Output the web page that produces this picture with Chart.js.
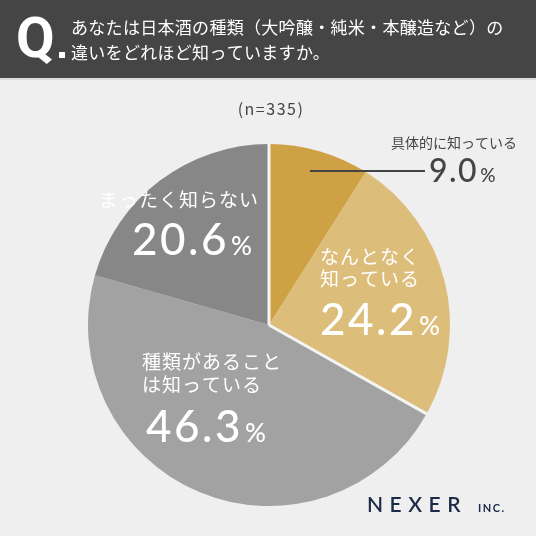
<!DOCTYPE html>
<html><head><meta charset="utf-8">
<script src="https://cdn.jsdelivr.net/npm/chart.js@4/dist/chart.umd.min.js"></script>
<style>html,body{margin:0;padding:0;background:#f0efef;}#wrap{width:536px;height:536px;position:relative;}</style>
</head><body><div id="wrap"><canvas id="c" width="536" height="536"></canvas></div>
<script>
const categories = ["具体的に知っている", "なんとなく知っている", "種類があることは知っている", "まったく知らない"];
const values = [9.0, 24.2, 46.3, 20.6];
const colors = ["#cea244", "#dcbd79", "#a2a2a2", "#878787"];
const title1 = "あなたは日本酒の種類（大吟醸・純米・本醸造など）の";
const title2 = "違いをどれほど知っていますか。";
const sampleText = "(n=335)";

const JP = '"Noto Sans CJK JP", "Noto Sans", sans-serif';
const NUM = 'Lato, "Noto Sans", sans-serif';

function numPct(ctx, val, x, base, size, pctSize, spacing, color) {
  ctx.fillStyle = color;
  ctx.textAlign = 'left';
  ctx.textBaseline = 'alphabetic';
  ctx.font = '500 ' + size + 'px ' + NUM;
  ctx.letterSpacing = spacing + 'px';
  const s = val.toFixed(1);
  ctx.fillText(s, x, base);
  const w = ctx.measureText(s).width;
  ctx.letterSpacing = '0px';
  ctx.font = '500 ' + pctSize + 'px ' + NUM;
  ctx.fillText('%', x + w + 2, base);
}

const deco = {
  id: 'deco',
  beforeDraw(chart) {
    const ctx = chart.ctx;
    ctx.save();
    ctx.fillStyle = '#f0efef';
    ctx.fillRect(0, 0, 536, 536);
    ctx.fillStyle = '#454545';
    ctx.fillRect(0, 0, 536, 78);
    ctx.fillStyle = '#dcdcdc';
    ctx.fillRect(0, 78, 536, 2);
    // Q.
    ctx.fillStyle = '#ffffff';
    ctx.font = 'bold 56px Roboto, sans-serif';
    ctx.textBaseline = 'alphabetic';
    ctx.textAlign = 'left';
    ctx.fillText('Q', 16, 57);
    ctx.fillRect(59, 52, 6, 6);
    ctx.font = '17px ' + JP;
    ctx.textBaseline = 'middle';
    ctx.letterSpacing = '0.3px';
    ctx.fillText(title1, 71, 28);
    ctx.fillText(title2, 71, 53);
    // n
    ctx.fillStyle = '#444444';
    ctx.font = '16px ' + JP;
    ctx.textAlign = 'center';
    ctx.letterSpacing = '1.5px';
    ctx.fillText(sampleText, 271, 109);
    ctx.letterSpacing = '0px';
    ctx.restore();
  },
  afterDatasetsDraw(chart) {
    const ctx = chart.ctx;
    const arcs = chart.getDatasetMeta(0).data;
    ctx.save();
    // white separators between gold and gray groups
    ctx.strokeStyle = '#f4f4f4';
    ctx.lineWidth = 3;
    [0, 2].forEach(i => {
      const a = arcs[i];
      ctx.beginPath();
      ctx.moveTo(a.x, a.y);
      ctx.lineTo(a.x + Math.cos(a.startAngle) * (a.outerRadius + 1), a.y + Math.sin(a.startAngle) * (a.outerRadius + 1));
      ctx.stroke();
    });
    // leader line
    ctx.strokeStyle = '#444444';
    ctx.lineWidth = 2;
    ctx.beginPath();
    ctx.moveTo(310, 171);
    ctx.lineTo(425, 171);
    ctx.stroke();

    // labels
    ctx.textAlign = 'left';
    ctx.textBaseline = 'middle';
    ctx.fillStyle = '#444444';
    ctx.font = '14px ' + JP;
    ctx.fillText(categories[0], 391, 143);
    numPct(ctx, values[0], 429, 182, 32, 19, 1.5, '#444444');

    ctx.fillStyle = '#ffffff';
    ctx.font = '19px ' + JP;
    ctx.letterSpacing = '1px';
    ctx.textBaseline = 'middle';
    ctx.fillText('なんとなく', 320, 257);
    ctx.fillText('知っている', 320, 279);
    ctx.fillText('まったく知らない', 99, 200);
    ctx.fillText('種類があること', 142, 362);
    ctx.fillText('は知っている', 142, 385);
    ctx.letterSpacing = '0px';
    numPct(ctx, values[1], 320, 335, 44, 26, 2.5, '#ffffff');
    numPct(ctx, values[3], 132, 255, 44, 26, 2.5, '#ffffff');
    numPct(ctx, values[2], 146, 442, 44, 26, 2.5, '#ffffff');

    // logo
    ctx.fillStyle = '#1b2a47';
    ctx.textBaseline = 'alphabetic';
    ctx.font = '600 21px Lato, sans-serif';
    ctx.letterSpacing = '6.5px';
    ctx.fillText('NEXER', 367, 512);
    ctx.font = 'bold 11px Lato, sans-serif';
    ctx.letterSpacing = '1.5px';
    ctx.fillText('INC.', 478, 512);
    ctx.letterSpacing = '0px';
    ctx.restore();
  }
};

new Chart(document.getElementById('c'), {
  type: 'pie',
  data: {
    labels: categories,
    datasets: [{ data: values, backgroundColor: colors, borderWidth: 0, hoverOffset: 0 }]
  },
  options: {
    responsive: false,
    animation: false,
    layout: { padding: { left: 88, right: 86, top: 144, bottom: 30 } },
    plugins: { legend: { display: false }, tooltip: { enabled: false } },
    events: []
  },
  plugins: [deco]
});
</script>
</body></html>
